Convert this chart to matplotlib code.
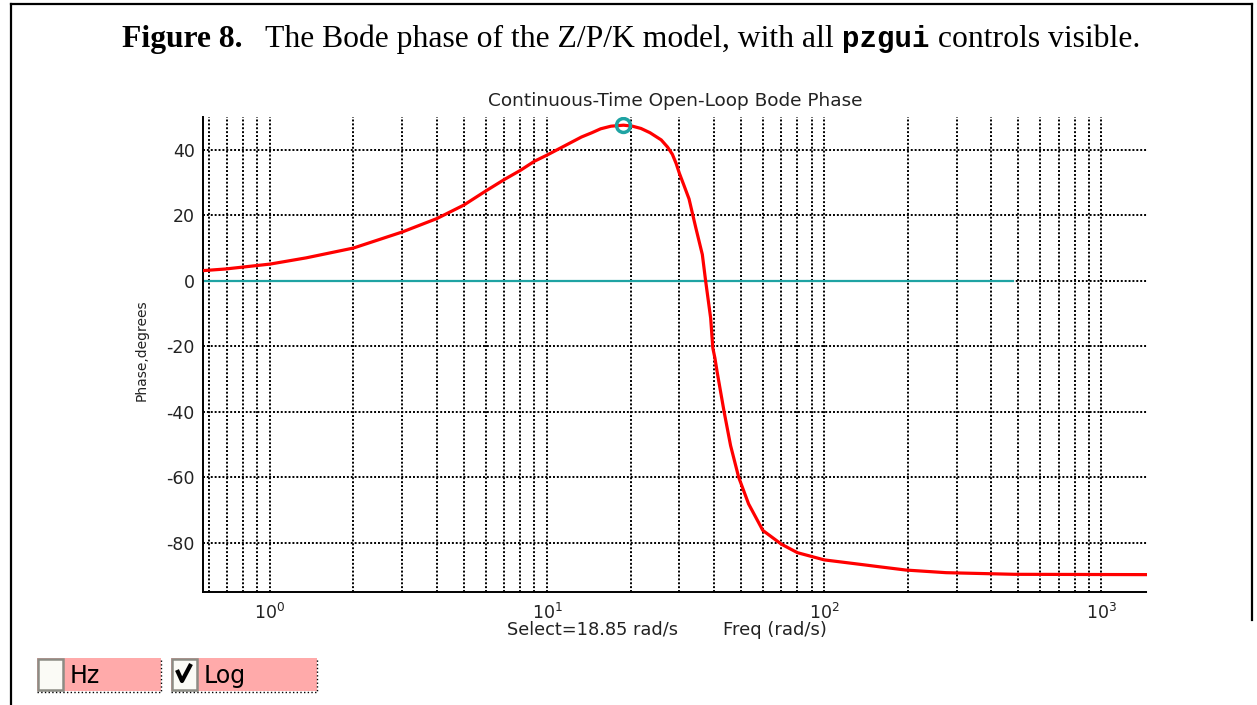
import matplotlib
matplotlib.use('Agg')
import matplotlib.pyplot as plt
import matplotlib.ticker as ticker
from matplotlib.patches import Rectangle
import numpy as np

# phase curve (rad/s, degrees)
freq = [0.573, 0.69, 1.0, 1.35, 2.0, 3.0, 4.0, 5.0, 6.0, 7.0, 8.0, 9.0, 10.0,
        13.3, 14.5, 15.6, 17.0, 18.85, 20.3, 21.8, 23.5, 25.8, 27.2, 28.3, 29.2,
        30.0, 31.2, 32.5, 34.4, 36.3, 37.3, 38.9, 39.6, 40.3, 41.1, 43.5, 45.9,
        49.1, 53.3, 60.0, 70.0, 80.0, 100.0, 142.0, 158.0, 197.0, 275.0, 484.0,
        1460.0]
phase = [3.1, 3.6, 5.1, 7.0, 10.0, 14.9, 19.0, 23.1, 27.4, 30.9, 33.7, 36.5, 38.4,
         43.9, 45.2, 46.4, 47.2, 47.5, 47.2, 46.5, 45.2, 43.0, 40.8, 38.6, 35.8,
         32.8, 29.0, 25.0, 16.1, 8.0, 0.0, -11.4, -20.5, -23.6, -28.1, -40.0, -50.3,
         -60.0, -68.1, -76.2, -80.4, -83.0, -85.2, -86.8, -87.3, -88.3, -89.1, -89.6,
         -89.7]

select_freq = 18.85
select_phase = 47.6
zero_line_freq = [0.573, 480.0]
zero_line_phase = [0.0, 0.0]

x_ticks = [1, 10, 100, 1000]
x_tick_labels = [r'$10^{0}$', r'$10^{1}$', r'$10^{2}$', r'$10^{3}$']
y_ticks = [-80, -60, -40, -20, 0, 20, 40]

W, H = 1257, 705
plt.rcParams['font.family'] = ['DejaVu Sans']
plt.rcParams['axes.unicode_minus'] = False

fig = plt.figure(figsize=(W / 100, H / 100), dpi=100)

# background layer in pixel coordinates for frame, caption and checkboxes
bg = fig.add_axes([0, 0, 1, 1])
bg.set_xlim(0, W)
bg.set_ylim(H, 0)
bg.axis('off')

bg.plot([11, 11], [4, H], color='black', lw=1.6)
bg.plot([11, 1252], [4, 4], color='black', lw=1.6)
bg.plot([1252, 1252], [4, 620], color='black', lw=1.6)

# caption built from pieces so the fonts can change mid line
renderer = fig.canvas.get_renderer()
pieces = [('Figure 8.', dict(family='Liberation Serif', weight='bold', size=22.8)),
          ('   The Bode phase of the Z/P/K model, with all ', dict(family='Liberation Serif', size=22.8)),
          ('pzgui', dict(family='Liberation Mono', weight='bold', size=21)),
          (' controls visible.', dict(family='Liberation Serif', size=22.8))]
x_pos = 122
for txt, kw in pieces:
    t = bg.text(x_pos, 47, txt, va='baseline', ha='left', **kw)
    bb = t.get_window_extent(renderer=renderer)
    x_pos += bb.width

# checkbox widgets
pink = '#ffaaaa'
for x0, w, label, checked in [(37, 124, 'Hz', False), (171, 146, 'Log', True)]:
    bg.add_patch(Rectangle((x0, 658), w, 33, facecolor=pink, edgecolor='none'))
    bg.add_patch(Rectangle((x0 + 1, 659), 25, 31, facecolor='#fbfbf6',
                           edgecolor='#8c8c84', lw=1.8))
    bg.plot([x0, x0 + w, x0 + w], [692, 692, 658], color='black', lw=1, ls=':')
    if checked:
        bg.plot([x0 + 6, x0 + 11, x0 + 20], [670, 681, 664], color='black', lw=3,
                solid_capstyle='butt')
    bg.text(x0 + 33, 676, label, va='center', ha='left', fontsize=17,
            family=['Liberation Sans Narrow', 'DejaVu Sans'])

# main plot
ax = fig.add_axes([203 / W, 1 - 592 / H, 944 / W, 475 / H])
ax.set_facecolor('none')
ax.semilogx(freq, phase, color='red', lw=2.3, zorder=3)
ax.plot(zero_line_freq, zero_line_phase, color='#1fa3a3', lw=1.6, zorder=2)
ax.plot(select_freq, select_phase, 'o', ms=10, mfc='none', mec='#1fa3a3',
        mew=2.5, zorder=4)

ax.set_xlim(0.573, 1460)
ax.set_ylim(-95, 50)
ax.set_xticks(x_ticks)
ax.set_xticklabels(x_tick_labels)
ax.xaxis.set_minor_locator(ticker.LogLocator(base=10, subs=np.arange(2, 10)))
ax.xaxis.set_minor_formatter(ticker.NullFormatter())
ax.set_yticks(y_ticks)
ax.tick_params(which='both', length=0, labelsize=12.5, colors='#222222')
ax.tick_params(axis='x', pad=8)
ax.tick_params(axis='y', pad=6)

ax.grid(True, which='both', axis='x', color='black', ls=(0, (1, 1)), lw=1.4)
ax.grid(True, which='major', axis='y', color='black', ls=(0, (1, 1)), lw=1.4)
for side in ['top', 'right']:
    ax.spines[side].set_visible(False)
for side in ['left', 'bottom']:
    ax.spines[side].set_linestyle((0, (1, 1)))
    ax.spines[side].set_linewidth(1.4)

ax.set_title('Continuous-Time Open-Loop Bode Phase', fontsize=13.3,
             color='#222222', pad=8)

fig.text(142 / W, 1 - 350 / H, 'Phase,degrees', rotation=90, ha='center',
         va='center', fontsize=10, color='#222222')
fig.text(507 / W, 1 - 630 / H, 'Select=18.85 rad/s', ha='left', va='center',
         fontsize=12.8, color='#222222')
fig.text(723 / W, 1 - 630 / H, 'Freq (rad/s)', ha='left', va='center',
         fontsize=13, color='#222222')

fig.savefig('out.png', dpi=100)
